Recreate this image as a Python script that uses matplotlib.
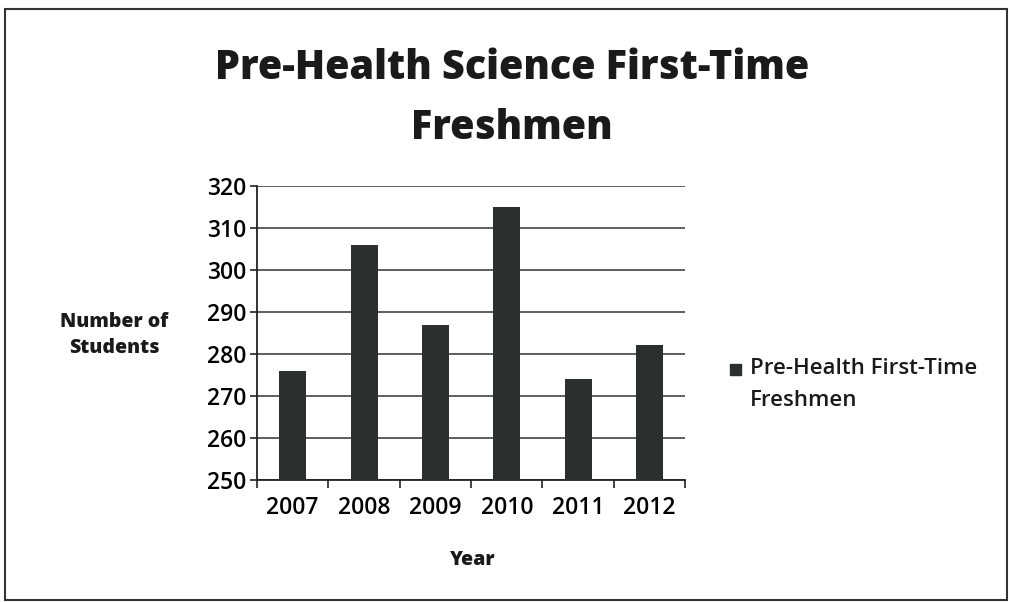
import matplotlib
matplotlib.use("Agg")
import matplotlib.pyplot as plt
from matplotlib.patches import Rectangle
import numpy as np

years = ['2007', '2008', '2009', '2010', '2011', '2012']
freshmen = [276, 306, 287, 315, 274, 282]
y_ticks = [250, 260, 270, 280, 290, 300, 310, 320]

plt.rcParams['font.family'] = ['Open Sans', 'DejaVu Sans']

fig = plt.figure(figsize=(10.12, 6.02), dpi=100)
ax = fig.add_axes([0.254, 0.203, 0.423, 0.488])

x = np.arange(len(years))
bar_color = '#2b2f2d'
ax.bar(x, np.array(freshmen) - 250, bottom=250, width=0.38, color=bar_color, zorder=3)

ax.set_ylim(250, 320)
ax.set_xlim(-0.5, len(years) - 0.5)
ax.set_yticks(y_ticks)
ax.set_yticklabels([str(t) for t in y_ticks], fontsize=16.5, fontweight='semibold')
ax.set_xticks(x)
ax.set_xticklabels(years, fontsize=16.5, fontweight='semibold')
ax.tick_params(axis='x', length=0, pad=12)
ax.tick_params(axis='y', length=5, width=1.2, color='#222222', pad=3)
# category boundary ticks on x axis
ax.set_xticks(np.arange(-0.5, len(years), 1.0), minor=True)
ax.tick_params(axis='x', which='minor', length=6, width=1.2, color='#222222')

ax.grid(axis='y', color='#333333', linewidth=1.1, zorder=0)
for s in ['top', 'right']:
    ax.spines[s].set_visible(False)
for s in ['left', 'bottom']:
    ax.spines[s].set_color('#222222')
    ax.spines[s].set_linewidth(1.3)

fig.text(0.506, 0.887, 'Pre-Health Science First-Time', ha='center', va='center',
         fontsize=28.5, fontweight='heavy', color='#1a1a1a')
fig.text(0.506, 0.787, 'Freshmen', ha='center', va='center',
         fontsize=28.5, fontweight='heavy', color='#1a1a1a')

fig.text(0.113, 0.443, 'Number of\nStudents', ha='center', va='center',
         fontsize=14, fontweight='heavy', color='#1a1a1a', linespacing=1.4)
fig.text(0.467, 0.07, 'Year', ha='center', va='center',
         fontsize=14, fontweight='heavy', color='#1a1a1a')

# legend
fig.patches.append(Rectangle((0.721, 0.377), 0.011, 0.019, transform=fig.transFigure,
                             color=bar_color, figure=fig))
fig.text(0.741, 0.388, 'Pre-Health First-Time', ha='left', va='center',
         fontsize=16, fontweight='semibold', color='#1a1a1a')
fig.text(0.741, 0.334, 'Freshmen', ha='left', va='center',
         fontsize=16, fontweight='semibold', color='#1a1a1a')

# outer border
fig.patches.append(Rectangle((0.005, 0.003), 0.99, 0.982, transform=fig.transFigure,
                             fill=False, edgecolor='#333333', linewidth=1.5, figure=fig))

fig.savefig('out.png', dpi=100)
